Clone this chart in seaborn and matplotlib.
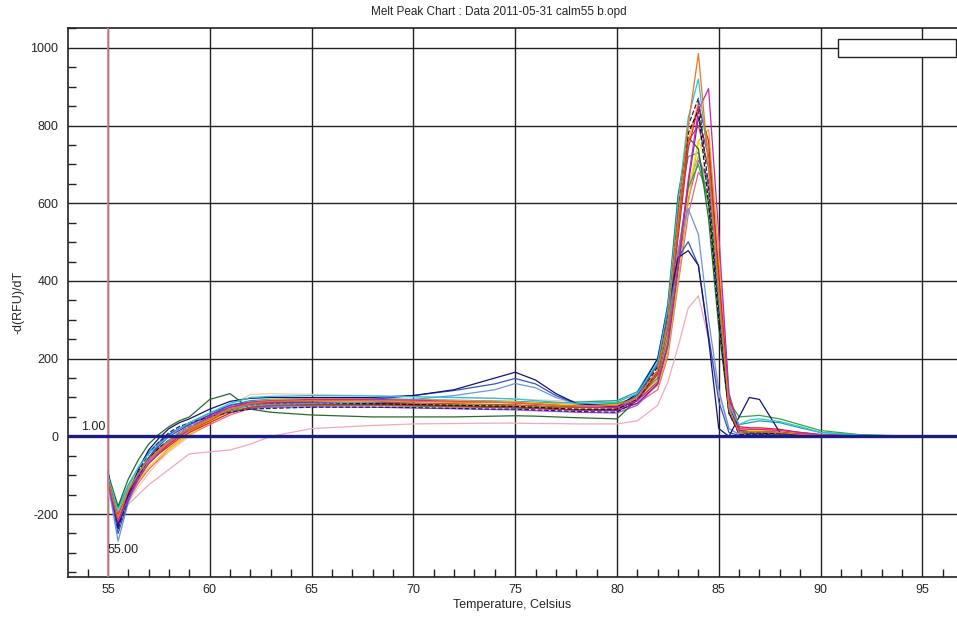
import seaborn as sns
import matplotlib.pyplot as plt
from matplotlib.patches import Rectangle
from matplotlib.ticker import MultipleLocator

# temperature steps (Celsius) shared by every well
temps = [55, 55.5, 56, 56.5, 57, 57.5, 58, 58.5, 59, 60,
         61, 62, 63, 65, 68, 70, 72, 74, 75, 76,
         77, 78, 80, 81, 82, 82.5, 83, 83.5, 84, 84.5,
         85, 85.5, 86, 86.5, 87, 88, 89, 90, 92, 95]

# -d(RFU)/dT, one list per well
orange = [-110, -210, -140, -95, -60, -35, -15, 5, 20, 45,
          70, 85, 90, 92, 92, 90, 88, 88, 87, 84,
          80, 78, 80, 100, 170, 300, 560, 800, 985, 700,
          380, 70, 10, 12, 12, 10, 5, 3, 1, 0]
cyan = [-100, -195, -130, -80, -45, -20, 0, 20, 35, 60,
        85, 100, 103, 105, 104, 102, 100, 98, 96, 92,
        88, 85, 88, 110, 190, 330, 600, 820, 920, 700,
        360, 80, 30, 42, 45, 38, 25, 10, 3, 0]
magenta = [-120, -220, -160, -110, -70, -45, -20, 0, 20, 50,
           75, 88, 92, 95, 95, 93, 90, 88, 86, 83,
           80, 76, 75, 92, 140, 240, 440, 660, 840, 895,
           520, 110, 20, 18, 18, 15, 10, 5, 2, 0]
navy_dash = [-90, -240, -150, -90, -45, -15, 10, 25, 35, 50,
             62, 70, 72, 75, 75, 74, 72, 70, 70, 68,
             66, 64, 62, 92, 170, 310, 580, 800, 870, 640,
             330, 60, 5, 5, 5, 3, 2, 1, 0, 0]
red = [-130, -200, -150, -105, -70, -45, -25, -5, 10, 35,
       60, 75, 80, 82, 82, 80, 78, 76, 75, 73,
       70, 68, 70, 92, 160, 280, 510, 740, 850, 760,
       420, 100, 25, 22, 22, 18, 10, 4, 1, 0]
dark_green = [-95, -180, -110, -60, -20, 5, 25, 40, 50, 95,
              110, 70, 62, 55, 50, 50, 50, 52, 53, 52,
              50, 48, 45, 95, 190, 340, 620, 770, 740, 560,
              280, 60, 10, 8, 8, 5, 3, 1, 0, 0]
green = [-115, -205, -140, -95, -60, -35, -15, 5, 20, 45,
         65, 75, 78, 80, 80, 78, 76, 74, 73, 72,
         74, 80, 85, 100, 150, 260, 470, 640, 700, 600,
         330, 90, 50, 52, 54, 45, 30, 15, 4, 0]
yellow = [-140, -190, -150, -110, -80, -55, -35, -15, 5, 35,
          65, 85, 92, 95, 94, 92, 90, 89, 88, 85,
          82, 80, 82, 98, 145, 250, 450, 630, 760, 700,
          430, 100, 20, 15, 15, 12, 8, 3, 1, 0]
purple = [-105, -225, -155, -100, -55, -25, 0, 15, 30, 55,
          75, 85, 88, 88, 86, 82, 78, 76, 75, 72,
          70, 68, 66, 85, 135, 235, 430, 650, 820, 720,
          400, 80, 15, 12, 12, 10, 6, 2, 0, 0]
light_blue = [-120, -270, -170, -110, -65, -35, -10, 10, 25, 50,
              70, 80, 82, 85, 88, 95, 105, 120, 136, 125,
              100, 85, 75, 100, 170, 290, 480, 586, 520, 300,
              120, 20, 5, 5, 5, 3, 2, 1, 0, 0]
blue = [-110, -250, -165, -100, -55, -20, 5, 20, 35, 60,
        80, 88, 90, 92, 95, 105, 118, 135, 149, 135,
        105, 85, 78, 105, 185, 310, 460, 501, 440, 260,
        90, 10, 2, 2, 3, 2, 1, 0, 0, 0]
navy = [-90, -230, -150, -85, -35, -5, 20, 35, 45, 70,
        90, 98, 100, 100, 100, 105, 120, 150, 165, 145,
        110, 85, 75, 110, 200, 330, 460, 478, 440, 250,
        20, 0, 50, 100, 95, 10, 3, 0, 0, 0]
pink = [-150, -200, -175, -150, -125, -105, -85, -65, -45, -40,
        -35, -20, 0, 20, 28, 32, 33, 34, 34, 33,
        33, 32, 32, 40, 80, 140, 230, 330, 362, 250,
        110, 20, 5, 3, 3, 2, 1, 0, 0, 0]
brown = [-125, -215, -145, -100, -65, -40, -20, 0, 15, 40,
         68, 82, 86, 88, 88, 86, 84, 82, 81, 79,
         76, 74, 74, 95, 165, 290, 540, 760, 800, 690,
         360, 80, 15, 12, 12, 10, 5, 2, 0, 0]
black_dash = [-100, -235, -160, -105, -60, -30, -10, 10, 25, 50,
              70, 80, 83, 85, 84, 82, 80, 78, 77, 75,
              72, 70, 70, 95, 180, 320, 580, 780, 840, 600,
              300, 60, 10, 8, 8, 6, 3, 1, 0, 0]
teal = [-110, -185, -125, -80, -40, -15, 5, 20, 30, 55,
        80, 92, 95, 97, 97, 95, 93, 91, 90, 88,
        86, 88, 92, 115, 200, 340, 580, 720, 730, 600,
        330, 80, 30, 35, 40, 35, 22, 10, 3, 0]
gold = [-135, -200, -155, -115, -80, -55, -30, -10, 10, 40,
        70, 88, 94, 97, 96, 94, 92, 90, 88, 86,
        84, 82, 82, 95, 130, 215, 400, 600, 760, 790,
        470, 110, 20, 15, 15, 12, 6, 2, 0, 0]
violet = [-115, -220, -150, -100, -60, -30, -10, 5, 20, 45,
          65, 72, 75, 76, 75, 73, 71, 69, 68, 66,
          64, 62, 60, 80, 135, 230, 430, 610, 710, 660,
          390, 90, 15, 12, 12, 8, 4, 1, 0, 0]
light_orange = [-120, -205, -150, -100, -62, -38, -18, 0, 15, 42,
                68, 84, 90, 93, 93, 91, 89, 87, 86, 83,
                80, 78, 78, 95, 160, 285, 530, 760, 860, 740,
                400, 85, 15, 12, 12, 9, 5, 2, 0, 0]
salmon = [-130, -225, -165, -120, -85, -60, -35, -15, 5, 30,
          55, 72, 78, 80, 80, 78, 76, 75, 74, 72,
          70, 68, 68, 85, 120, 205, 390, 570, 680, 640,
          400, 100, 20, 15, 15, 10, 5, 2, 0, 0]
lime = [-110, -195, -135, -90, -55, -30, -12, 5, 18, 42,
        66, 80, 84, 86, 86, 84, 82, 80, 79, 77,
        75, 74, 76, 92, 145, 250, 460, 650, 720, 640,
        360, 85, 15, 12, 12, 8, 4, 1, 0, 0]
peach = [-140, -210, -170, -130, -95, -65, -40, -20, 0, 35,
         80, 108, 110, 108, 105, 102, 100, 98, 96, 94,
         92, 90, 92, 108, 155, 260, 460, 640, 720, 660,
         420, 110, 25, 20, 18, 15, 10, 5, 1, 0]

wells = {
    "peach": peach, "pink": pink, "lime": lime, "salmon": salmon,
    "violet": violet, "teal": teal, "gold": gold, "yellow": yellow,
    "green": green, "dark_green": dark_green, "light_orange": light_orange,
    "brown": brown, "purple": purple, "red": red, "black_dash": black_dash,
    "light_blue": light_blue, "blue": blue, "navy": navy,
    "navy_dash": navy_dash, "magenta": magenta, "cyan": cyan, "orange": orange,
}

colors = {
    "orange": "#ee7418", "cyan": "#26c4de", "magenta": "#cc22b4",
    "navy_dash": "#1c1c82", "red": "#e42222", "dark_green": "#2a6a2a",
    "green": "#34a834", "yellow": "#f0dc1e", "purple": "#7e22a2",
    "light_blue": "#6a94e2", "blue": "#3454c2", "navy": "#141470",
    "pink": "#f2a8b8", "brown": "#b45a22", "black_dash": "#111111",
    "teal": "#22a0a0", "gold": "#f2b000", "violet": "#a256e0",
    "light_orange": "#ffa040", "salmon": "#f06484", "lime": "#a4d034",
    "peach": "#f8c8a4",
}
dashed = {"navy_dash", "black_dash"}

sns.set_style("white")
plt.rcParams["font.family"] = ["Liberation Sans", "DejaVu Sans"]
plt.rcParams["font.size"] = 9
plt.rcParams["axes.unicode_minus"] = False

fig = plt.figure(figsize=(9.57, 6.22), dpi=100)
ax = fig.add_axes([68 / 957, 1 - 577 / 622, 1 - 68 / 957, (577 - 28) / 622])

for name, vals in wells.items():
    sns.lineplot(x=temps, y=vals, ax=ax, color=colors[name], linewidth=0.9,
                 linestyle="--" if name in dashed else "-", estimator=None)

ax.axvline(55, color="#e08484", linewidth=1.2, zorder=5)
ax.axhline(0, color="#1c1c86", linewidth=2.4, zorder=6)

ax.set_xlim(53.04, 96.7)
ax.set_ylim(-362, 1051)
ax.xaxis.set_major_locator(MultipleLocator(5))
ax.xaxis.set_minor_locator(MultipleLocator(1))
ax.yaxis.set_major_locator(MultipleLocator(200))
ax.yaxis.set_minor_locator(MultipleLocator(50))
ax.grid(True, which="major", color="#222222", linewidth=1.0)
ax.set_axisbelow(True)

ax.tick_params(axis="y", which="major", direction="out", length=5, width=1, color="#222222", pad=2)
ax.tick_params(axis="x", which="major", direction="out", length=0, pad=5)
ax.tick_params(which="minor", direction="in", length=6, width=1, color="#222222",
               bottom=True, left=True)
for side in ["left", "bottom", "top"]:
    ax.spines[side].set_color("#222222")
    ax.spines[side].set_linewidth(1.2)
ax.spines["right"].set_visible(False)

ax.set_xlabel("Temperature, Celsius", fontsize=9, labelpad=2)
ax.set_ylabel("-d(RFU)/dT", fontsize=9, labelpad=4)

ax.text(53.7, 23, "1.00", fontsize=9, va="center", ha="left", color="#222222")
ax.text(55.0, -293, "55.00", fontsize=9, va="center", ha="left", color="#222222")

fig.text(499 / 957, 1 - 12 / 622, "Melt Peak Chart : Data 2011-05-31 calm55 b.opd",
         ha="center", va="center", fontsize=8.5)

fig.patches.append(Rectangle((838 / 957, 1 - 57 / 622), 118 / 957, 18 / 622,
                             transform=fig.transFigure, facecolor="white",
                             edgecolor="#222222", linewidth=1.0, zorder=10))

fig.savefig("out.png", dpi=100)
